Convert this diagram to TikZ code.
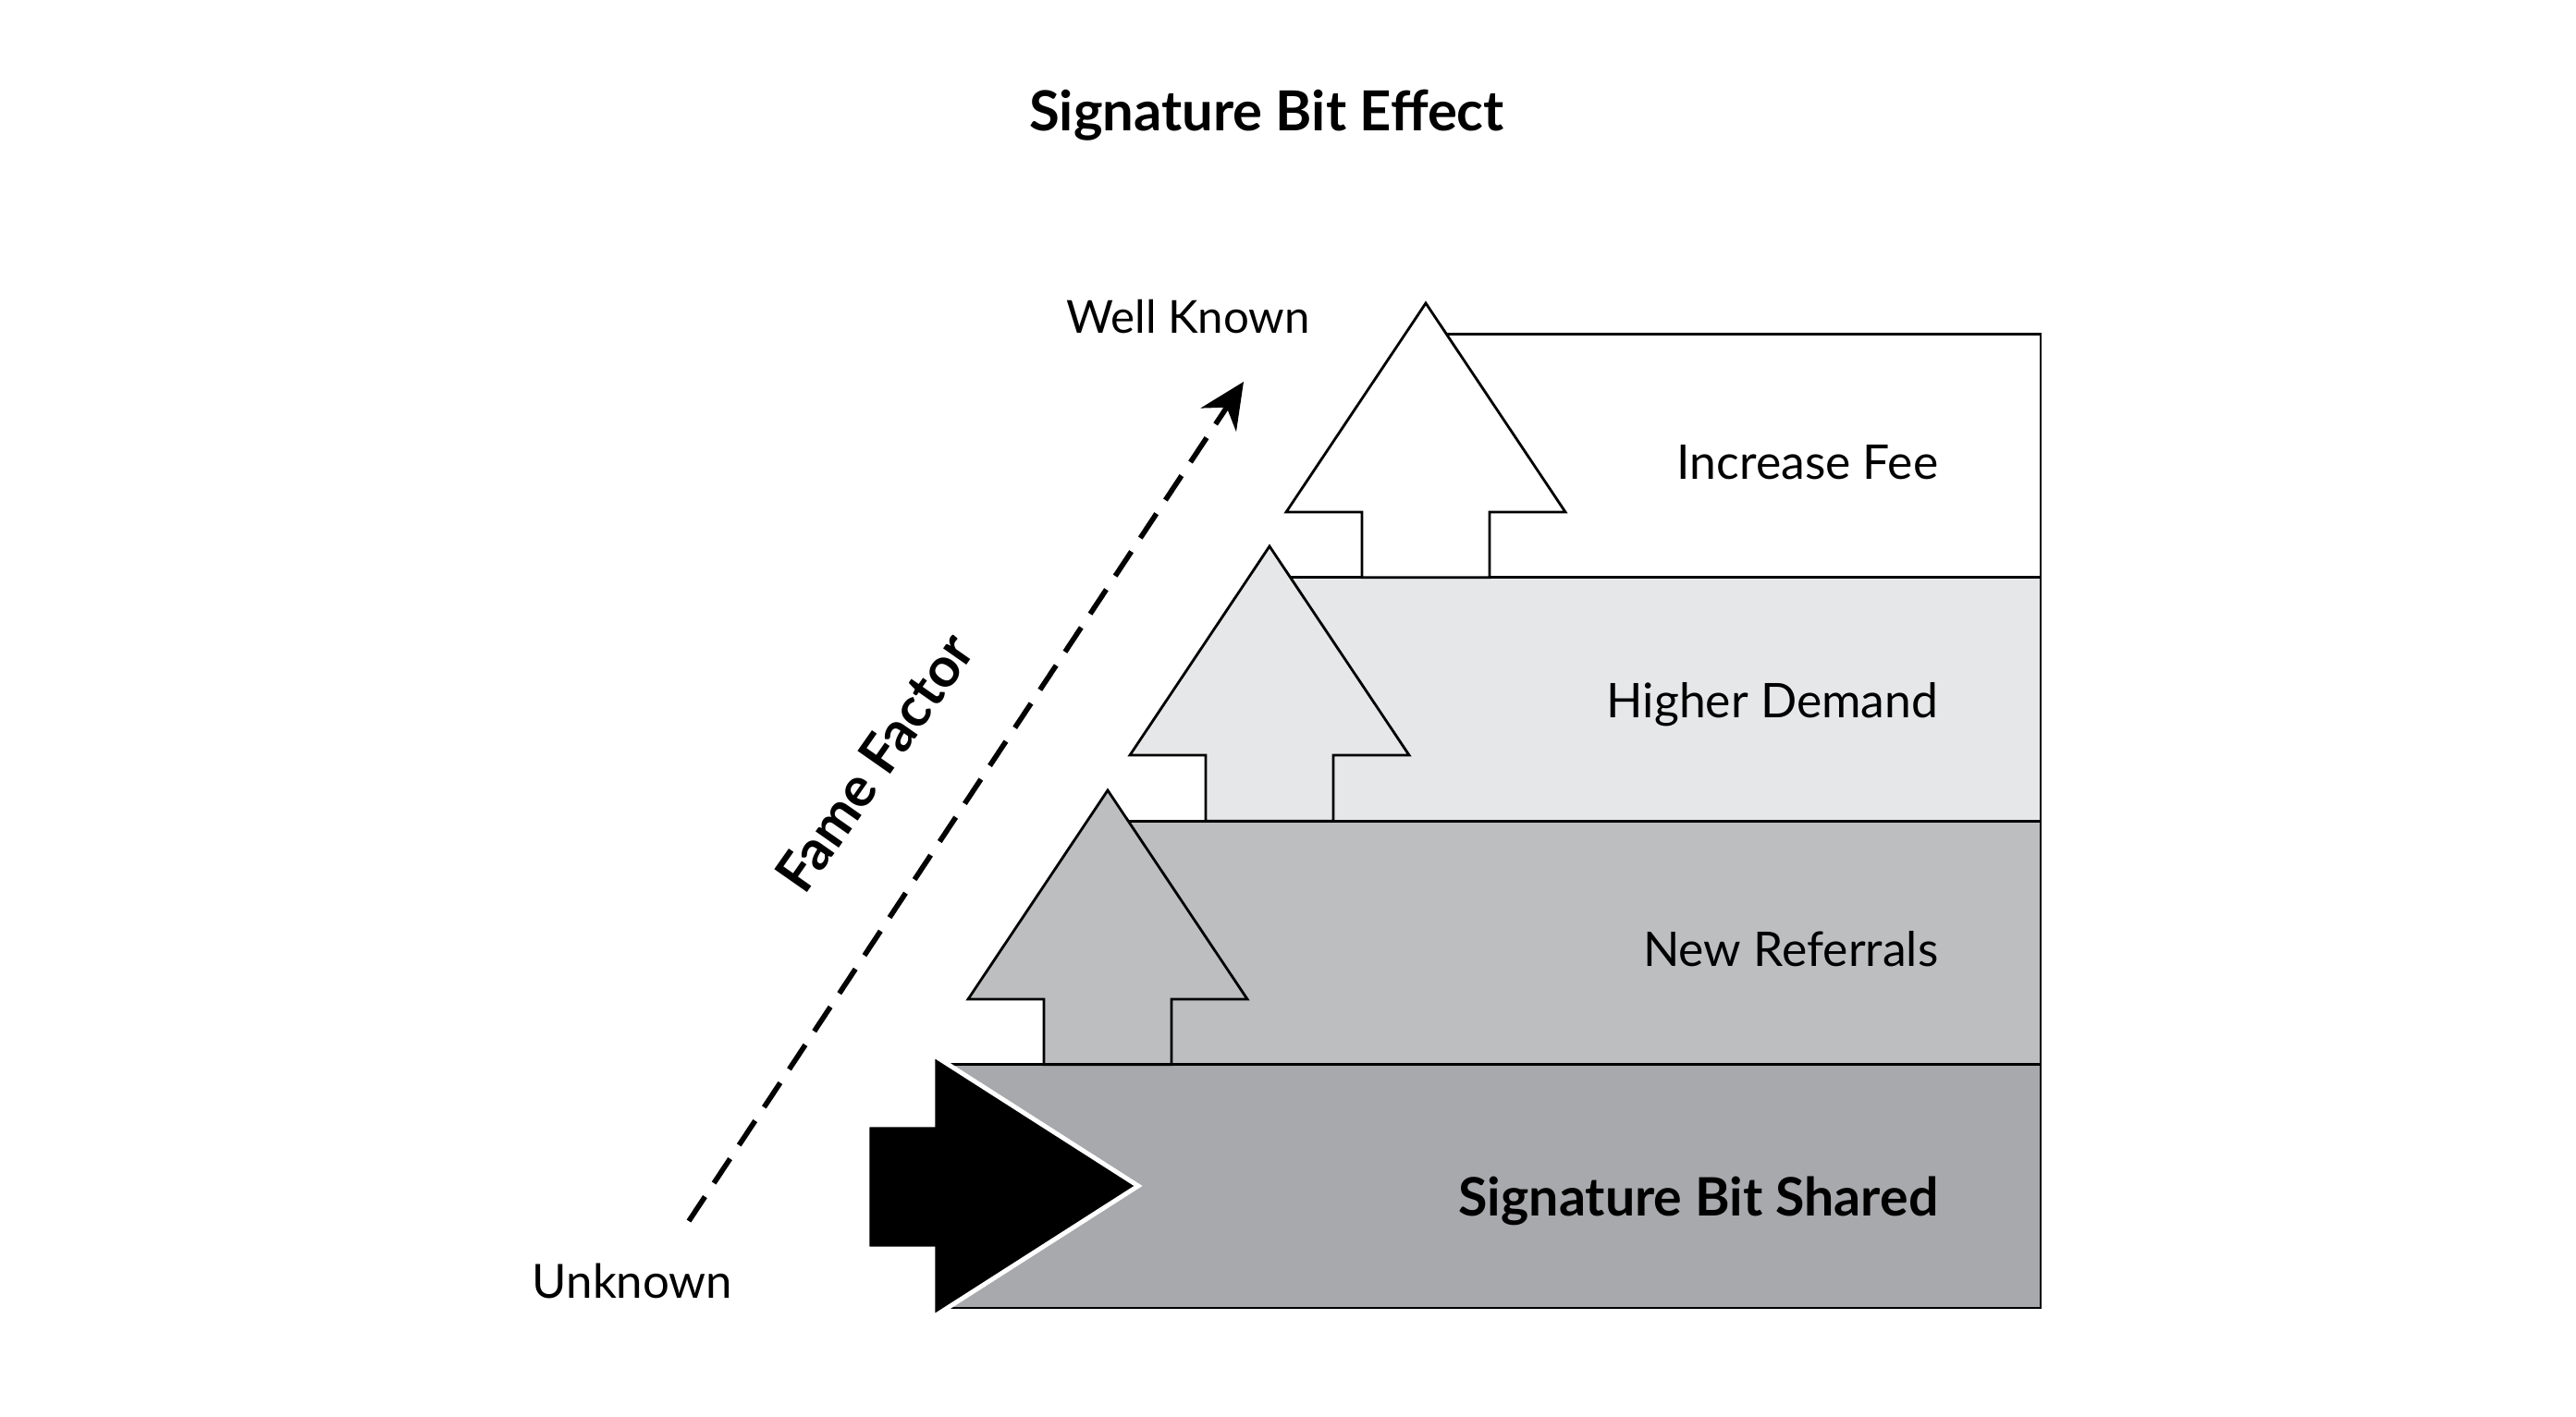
\documentclass[tikz,border=0pt]{standalone}
\usepackage{fontspec}
\setmainfont{Lato}
\usepackage{tikz}
\usetikzlibrary{arrows.meta,positioning}
\definecolor{tierlight}{HTML}{E6E7E8}
\definecolor{tiermid}{HTML}{BCBEC0}
\definecolor{tierdark}{HTML}{A7A9AC}

\begin{document}
\begin{tikzpicture}[
  tier/.style={draw, line width=0.8pt, anchor=south west, inner sep=0pt, outer sep=0pt, minimum height=2.634cm},
  uparr/.style={draw, line width=0.8pt},
  lab/.style={font=\fontsize{14.7}{17}\selectfont, anchor=base east, inner sep=0pt},
  boldlab/.style={font=\fontsize{17}{20}\selectfont\bfseries},
  fame/.style={dash pattern=on 9pt off 5pt, line width=1.6pt, -{Stealth[length=14pt,width=13pt]}}
]
\useasboundingbox (0,0) rectangle (27.86,15.32);
\node[boldlab] (title) at (13.70,14.07) {Signature Bit Effect};
% tiers, bottom to top
\node[tier, fill=tierdark, minimum width=11.87cm] (shared) at (10.20,1.17) {};
\node[tier, fill=tiermid, minimum width=10.09cm] (referrals) at (11.98,3.804) {};
\node[tier, fill=tierlight, minimum width=8.34cm] (demand) at (13.73,6.438) {};
\node[tier, fill=white, minimum width=6.65cm] (fee) at (15.42,9.072) {};
% block arrows
\draw[uparr, fill=white] (14.73,9.072) -- (14.73,9.78) -- (13.91,9.78) -- (15.42,12.04)
  -- (16.93,9.78) -- (16.11,9.78) -- (16.11,9.072) -- cycle;
\draw[uparr, fill=tierlight] (13.04,6.438) -- (13.04,7.15) -- (12.22,7.15) -- (13.73,9.41)
  -- (15.24,7.15) -- (14.42,7.15) -- (14.42,6.438) -- cycle;
\draw[uparr, fill=tiermid] (11.29,3.804) -- (11.29,4.51) -- (10.47,4.51) -- (11.98,6.77)
  -- (13.49,4.51) -- (12.67,4.51) -- (12.67,3.804) -- cycle;
\draw[draw=white, line width=1.4pt, fill=black] (9.38,1.81) -- (10.09,1.81) -- (10.09,1.07)
  -- (12.31,2.49) -- (10.09,3.91) -- (10.09,3.15) -- (9.38,3.15) -- cycle;
% labels
\node[lab] (feelab) at (20.97,10.13) {Increase Fee};
\node[lab] (demandlab) at (20.97,7.56) {Higher Demand};
\node[lab] (referlab) at (20.97,4.87) {New Referrals};
\node[lab, font=\fontsize{16.3}{19}\selectfont\bfseries] (sharedlab) at (20.97,2.17) {Signature Bit Shared};
\node[font=\fontsize{14}{17}\selectfont] (known) at (12.85,11.89) {Well Known};
\node[font=\fontsize{14.5}{17}\selectfont] (unknown) at (6.84,1.46) {Unknown};
\node[boldlab, rotate=55] (famelab) at (9.46,7.07) {Fame Factor};
% fame factor
\coordinate (low) at (7.45,2.11);
\coordinate (high) at (13.45,11.19);
\draw[fame] (low) -- (high);
\end{tikzpicture}
\end{document}
